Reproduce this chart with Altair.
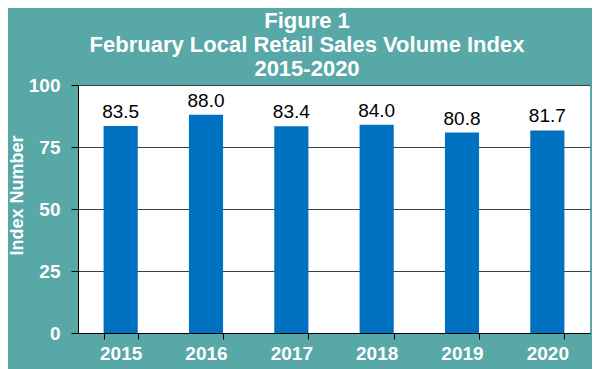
import altair as alt
import pandas as pd

years = ["2015", "2016", "2017", "2018", "2019", "2020"]
values = [83.5, 88.0, 83.4, 84.0, 80.8, 81.7]
y_ticks = [0, 25, 50, 75, 100]
title_lines = ["Figure 1", "February Local Retail Sales Volume Index", "2015-2020"]

df = pd.DataFrame({"year": years, "value": values})

FONT = "Liberation Sans"

x = alt.X(
    "year:N",
    sort=years,
    scale=alt.Scale(paddingInner=0.6, paddingOuter=0.3),
    axis=alt.Axis(
        title=None,
        labelAngle=0,
        tickBand="extent",
        tickSize=6,
        tickColor="black",
        domainColor="black",
        labelPadding=5,
        labelFontSize=19,
        labelFontWeight="bold",
        labelColor="white",
        labelFont=FONT,
        grid=False,
    ),
)
y = alt.Y(
    "value:Q",
    scale=alt.Scale(domain=[0, 100], nice=False, zero=True),
    axis=alt.Axis(
        title="Index Number",
        values=y_ticks,
        tickSize=7,
        tickColor="black",
        domainColor="black",
        gridColor="#404040",
        gridWidth=1,
        labelPadding=11,
        labelFontSize=19,
        labelFontWeight="bold",
        labelColor="white",
        labelFont=FONT,
        titleFont=FONT,
        titleFontSize=18,
        titleFontWeight="bold",
        titleColor="white",
        titleAngle=270,
        titleAlign="center",
        titleBaseline="middle",
        titleX=-61,
        titleY=110,
    ),
)

bars = alt.Chart(df).mark_bar(color="#0070C0").encode(x=x, y=y)
labels = alt.Chart(df).mark_text(
    dy=-8, baseline="alphabetic", fontSize=19, font=FONT, color="black"
).encode(x=alt.X("year:N", sort=years), y="value:Q", text=alt.Text("value:Q", format=".1f"))

chart = (
    alt.layer(bars, labels)
    .properties(
        width=512,
        height=248,
        background="#57A8A7",
        padding={"left": 70, "top": 77, "right": 2, "bottom": 36},
        autosize=alt.AutoSizeParams(type="none"),
        title=alt.TitleParams(
            text=title_lines,
            font=FONT,
            fontSize=22,
            fontWeight="bold",
            color="white",
            lineHeight=24,
            anchor="middle",
            dx=-27,
            dy=9,
            offset=4,
        ),
    )
    .configure_view(fill="white", stroke=None)
)

chart.save("out.html", embed_options={"renderer": "svg", "actions": False})
